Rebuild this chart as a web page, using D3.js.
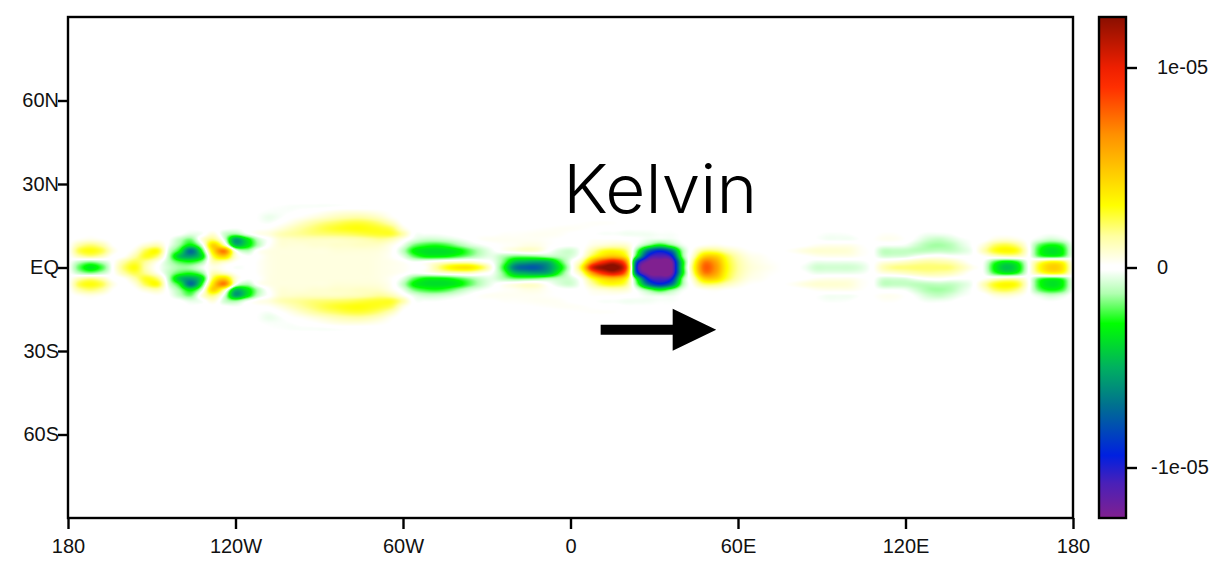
<!DOCTYPE html>
<html><head><meta charset="utf-8">
<script src="https://d3js.org/d3.v7.min.js"></script>
<style>html,body{margin:0;padding:0;background:#fff}svg{display:block}
text{font-family:"Liberation Sans",Arial,sans-serif;fill:#111}</style></head>
<body><svg id="c" width="1220" height="577"></svg>
<script>
// Field values, in units of 1e-6, on a 4-degree longitude grid (180W..180E).
// Rows run away from the equator; the pattern is mirrored about it.
const lons = d3.range(-180, 181, 4);
const rowLats = [0,2,4,6,8,10,12,14,16,18,20,22,24];
const lat00=[0,-2,-3.4,-2.3,0,2,3,1.2,0,-.8,
 -1.4,-1.3,-.4,.5,.2,-.2,-.1,.2,.5,.6,
 .6,.6,.6,.6,.6,.6,.6,.6,.5,.4,
 .3,.1,.2,1.5,3,3.8,3.8,2.5,.3,-2.5,
 -6.5,-7.5,-7.5,-6,-3.5,-.5,3,10.5,12.5,13,
 8.5,-10,-13,-13.5,-13,-3.5,2.5,7.8,6.5,3.2,
 1.6,.8,.5,.3,.1,0,-.3,-.8,-.8,-.8,
 -.8,-.6,0,1.2,1.8,1.9,2,2,2,1.9,
 1.2,.4,-.3,-3,-4.5,-3.5,-.2,3,4.6,4,.5];
const lat02=[0,-1,-1.6,-1,0,1.4,2.4,1.6,.4,-1,
 -2.2,-2.6,-1.5,1.2,1,.2,-.1,.2,.5,.6,
 .6,.6,.6,.6,.6,.6,.6,.6,.5,.4,
 .2,-.2,0,.4,.8,1,1,.4,-.2,-1.8,
 -4.5,-5.2,-5.5,-5,-2.5,-.3,1.6,6.5,9.5,10.5,
 6.5,-8.5,-12.5,-13,-12.5,-3.5,2,7,6,3,
 1.5,.7,.4,.2,.1,0,-.1,-.4,-.4,-.4,
 -.4,-.3,0,.5,.7,1,1.3,1.5,1.4,1.2,
 .6,0,-.2,-2.2,-3.2,-2.5,-.1,2,3.2,2.8,.3];
const lat04=[0,1.2,1.8,1.2,.1,.2,1.4,2.8,2,-1,
 -4.5,-5.5,-3.5,2.5,4.5,.8,-.1,.1,.5,.6,
 .6,.6,.6,.6,.6,.6,.6,.6,.5,.2,
 -.5,-2,-2.9,-3,-2.8,-2.2,-1.5,-.8,-.5,-1.2,
 -1.8,-1.8,-1.6,-1.2,-1,-.7,.3,2.8,4.5,5,
 3.2,-3.5,-10,-11,-10,-2,1,4.5,4.5,2.5,
 1.2,.5,.3,.1,0,0,.1,.3,.4,.4,
 .4,.2,0,-.7,-.7,-.6,-.2,.1,.2,0,
 -.1,-.1,.2,.8,1.2,1.1,.1,-2,-2.6,-2.2,-.2];
const lat06=[0,2.4,3,2.4,.6,0,.6,2.4,3,-.6,
 -2.8,-7,-2.5,4,7,.2,-1.2,.1,.5,.6,
 .6,.6,.6,.6,.7,.7,.7,.7,.6,.2,
 -1,-3,-3.6,-3.7,-3.6,-3.1,-2,-1,-.3,.2,
 .5,.8,.7,0,-.6,-.8,0,1.5,2.8,3,
 2,-2,-7,-9,-7,-1.5,.4,2,2,1.2,
 .6,.2,.1,0,.1,.3,.6,.8,.8,.8,
 .7,.3,0,-1,-1,-1,-1.1,-1.1,-1,-1,
 -.7,-.2,1.2,2.8,3.3,2.8,.3,-2.6,-3.6,-3,-.3];
const lat08=[0,1.4,2,1.4,.2,0,.1,.8,1.2,-.2,
 -1.5,-3.2,-.6,4.5,1.5,-4.5,-3.5,-1.2,.1,.7,
 .7,.7,.8,.8,.9,.9,1,1,.9,.4,
 -.4,-1.8,-2.4,-2.6,-2.2,-1.4,-.7,-.3,0,.2,
 .3,.5,.5,.2,0,-.1,0,.5,.8,1,
 .8,-.4,-1.8,-3,-1.8,-.4,0,.3,.4,.2,
 .1,0,0,0,0,0,.1,.3,.4,.4,
 .4,.2,0,-.2,-.2,-.3,-.8,-1.3,-1.4,-1.2,
 -.6,-.1,.7,2.1,2.5,1.8,.1,-2,-2.8,-2.3,-.2];
const lat10=[0,.3,.5,.3,0,0,0,0,.2,-.1,
 -1,-1.8,.6,2,-.5,-5.5,-3.5,-1,0,.8,
 .9,1,1,1,1,1.1,1.2,1.4,1.6,1.2,
 .3,-.5,-.9,-.9,-.7,-.4,-.1,.2,.3,.3,
 .3,.3,.3,.2,.1,0,0,.2,.2,.2,
 .1,-.1,-.4,-.5,-.4,-.1,0,.1,.1,0,
 0,0,0,0,0,0,0,-.1,-.25,-.25,
 -.25,-.1,.1,.3,.3,.1,-.3,-.8,-1,-.7,
 -.3,-.1,0,.6,.8,.5,0,-.5,-.9,-.6,0];
const lat12=[0,0,.1,0,0,0,0,0,0,0,
 -.1,-.5,-.2,.7,-.8,-1.5,-.4,.3,.6,1.2,
 1.5,1.7,1.9,2,2.1,2.2,2.4,2.6,2.7,2.6,
 1.4,-.1,-.2,-.2,-.1,0,.1,.1,.1,.2,
 .2,.25,.3,.3,.25,.1,0,-.1,-.2,-.2,
 -.3,-.3,-.3,-.2,-.2,-.1,-.1,0,0,0,
 0,0,0,0,0,0,0,-.1,-.2,-.2,
 -.15,0,.05,.2,.2,.05,-.1,-.3,-.3,-.2,
 0,0,0,.1,.1,.05,0,-.1,-.2,-.1,0];
const lat14=[0,0,0,0,0,0,0,0,0,0,
 0,-.1,0,0,-.1,-.2,0,.1,.2,.6,
 1.1,1.6,2,2.4,2.7,2.9,3,2.9,2.7,2.2,
 .6,0,0,0,0,0,0,0,0,.05,
 .1,.1,.15,.2,.25,.25,.2,.1,0,0,
 -.1,-.1,-.1,-.1,-.1,0,0,0,0,0,
 0,0,0,0,0,0,0,0,0,0,
 0,0,0,0,0,0,0,0,0,0,
 0,0,0,0,0,0,0,0,0,0,0];
const lat16=[0,0,0,0,0,0,0,0,0,0,
 0,0,0,0,0,0,0,-.1,-.2,.1,
 .5,1,1.5,1.9,2.2,2.5,2.6,2.4,1.9,1.1,
 .1,0,0,0,0,0,0,0,0,0,
 0,0,0,0,.05,.1,.15,.2,.2,.15,
 0,0,0,0,0,0,0,0,0,0,
 0,0,0,0,0,0,0,0,0,0,
 0,0,0,0,0,0,0,0,0,0,
 0,0,0,0,0,0,0,0,0,0,0];
const lat18=[0,0,0,0,0,0,0,0,0,0,
 0,0,0,0,0,0,0,-.15,-.4,-.2,
 .1,.3,.6,.9,1.2,1.4,1.5,1.3,.9,.3,
 0,0,0,0,0,0,0,0,0,0,
 0,0,0,0,0,0,0,0,0,0,
 0,0,0,0,0,0,0,0,0,0,
 0,0,0,0,0,0,0,0,0,0,
 0,0,0,0,0,0,0,0,0,0,
 0,0,0,0,0,0,0,0,0,0,0];
const lat20=[0,0,0,0,0,0,0,0,0,0,
 0,0,0,0,0,0,0,-.1,-.2,-.2,
 -.15,0,.1,.3,.5,.6,.6,.5,.3,.1,
 0,0,0,0,0,0,0,0,0,0,
 0,0,0,0,0,0,0,0,0,0,
 0,0,0,0,0,0,0,0,0,0,
 0,0,0,0,0,0,0,0,0,0,
 0,0,0,0,0,0,0,0,0,0,
 0,0,0,0,0,0,0,0,0,0,0];
const lat22=[0,0,0,0,0,0,0,0,0,0,
 0,0,0,0,0,0,0,0,-.1,-.15,
 -.2,-.2,-.2,-.2,-.15,-.1,-.1,-.1,0,0,
 0,0,0,0,0,0,0,0,0,0,
 0,0,0,0,0,0,0,0,0,0,
 0,0,0,0,0,0,0,0,0,0,
 0,0,0,0,0,0,0,0,0,0,
 0,0,0,0,0,0,0,0,0,0,
 0,0,0,0,0,0,0,0,0,0,0];
const lat24=lons.map(()=>0);
const fieldRows=[lat00,lat02,lat04,lat06,lat08,lat10,lat12,lat14,lat16,lat18,lat20,lat22,lat24];

const lonTicks=[-180,-120,-60,0,60,120,180];
const lonLabels=["180","120W","60W","0","60E","120E","180"];
const latTicks=[60,30,0,-30,-60];
const latLabels=["60N","30N","EQ","30S","60S"];
const cbTicks=[1e-5,0,-1e-5];
const cbLabels=["1e-05","0","-1e-05"];
const colorValues=[12.5,10,9,6.65,3.1,1.57,.12,-.12,-1.3,-2.8,-5,-6.9,-9.4,-10.8,-12.5];
const colorNames=["#8a0f00","#ee1f00","#ff2f00","#ff9000","#ffff00","#ffffa0","#ffffff","#ffffff","#b0ffb0","#00ff00","#00b060","#007090","#0020e0","#4a20b8","#802090"];
const titleText="Kelvin";
const arrowLon=[10.8,36.6,52.2], arrowLat=[-22.4,-22.4];

const L=68,R=1073,T=17,B=518, CL=1099,CR=1126;
const x=d3.scaleLinear().domain([-180,180]).range([L,R]);
const y=d3.scaleLinear().domain([-90,90]).range([B,T]);
const cy=d3.scaleLinear().domain([-1.2525e-5,1.2525e-5]).range([B,T]);
const color=d3.scaleLinear().domain(colorValues).range(colorNames).interpolate(d3.interpolateRgb).clamp(true);

function cr(a,b,c,d,t){return b+.5*t*(c-a+t*(2*a-5*b+4*c-d+t*(3*(b-c)+d-a)));}
function fieldAt(lon,lat){
  const u=(lon+180)/4, v=Math.abs(lat)/2;
  if(v>=rowLats.length-1) return 0;
  const i=Math.floor(u), j=Math.floor(v), fu=u-i, fv=v-j, col=[];
  for(let m=-1;m<=2;m++){
    const r=fieldRows[Math.min(Math.abs(j+m),rowLats.length-1)];
    const g=k=>r[Math.max(0,Math.min(lons.length-1,k))];
    col.push(cr(g(i-1),g(i),g(i+1),g(i+2),fu));
  }
  return cr(col[0],col[1],col[2],col[3],fv);
}

const svg=d3.select("#c");
const W=R-L,H=B-T;
const cv=document.createElement("canvas");cv.width=W;cv.height=H;
const ctx=cv.getContext("2d");const img=ctx.createImageData(W,H);
for(let py=0;py<H;py++)for(let px=0;px<W;px++){
  const v=fieldAt(x.invert(L+px+.5),y.invert(T+py+.5));
  const c=d3.rgb(color(v)),o=(py*W+px)*4;
  img.data[o]=c.r;img.data[o+1]=c.g;img.data[o+2]=c.b;img.data[o+3]=255;
}
ctx.putImageData(img,0,0);
svg.append("image").attr("x",L).attr("y",T).attr("width",W).attr("height",H).attr("href",cv.toDataURL());

// frame and axes
const fs=20;
function styleAxis(g){g.select(".domain").remove();g.selectAll("line").attr("stroke","#000").attr("stroke-width",2.4);
  g.selectAll("text").style("font-size",fs+"px").style("font-family",'"Liberation Sans"').attr("fill","#111");}
svg.append("g").attr("transform",`translate(0,${B})`)
  .call(d3.axisBottom(x).tickValues(lonTicks).tickFormat((d,i)=>lonLabels[i]).tickSize(11).tickPadding(10))
  .call(styleAxis);
svg.append("g").attr("transform",`translate(${L},0)`)
  .call(d3.axisLeft(y).tickValues(latTicks).tickFormat((d,i)=>latLabels[i]).tickSize(10).tickPadding(-1))
  .call(styleAxis);
svg.append("rect").attr("x",L).attr("y",T).attr("width",W).attr("height",H).attr("fill","none").attr("stroke","#000").attr("stroke-width",2.4);

// colour bar
const grad=svg.append("defs").append("linearGradient").attr("id","cb").attr("x1",0).attr("x2",0).attr("y1",0).attr("y2",1);
grad.selectAll("stop").data(colorValues).join("stop")
  .attr("offset",d=>(cy(d*1e-6)-T)/(B-T)).attr("stop-color",(d,i)=>colorNames[i]);
svg.append("rect").attr("x",CL).attr("y",T).attr("width",CR-CL).attr("height",H).attr("fill","url(#cb)").attr("stroke","#000").attr("stroke-width",2.4);
const cbg=svg.append("g").attr("transform",`translate(${CR},0)`)
  .call(d3.axisRight(cy).tickValues(cbTicks).tickFormat((d,i)=>cbLabels[i]).tickSize(11).tickPadding(20)).call(styleAxis);
cbg.selectAll("text").attr("x",d=>d<0?25:31);

// annotation
svg.append("text").attr("x",x(-2.6)).attr("y",213).text(titleText)
  .style("font-family","Inter").style("font-weight",300).style("font-size","67px").style("fill","#000").attr("textLength",194).attr("lengthAdjust","spacingAndGlyphs");
const ax=arrowLon.map(x), ay=y(arrowLat[0]);
svg.append("path").attr("fill","#000").attr("d",d3.line()([
 [ax[0],ay-5],[ax[1],ay-5],[ax[1],ay-21],[ax[2],ay],[ax[1],ay+21],[ax[1],ay+5],[ax[0],ay+5]])+"Z");
</script></body></html>
